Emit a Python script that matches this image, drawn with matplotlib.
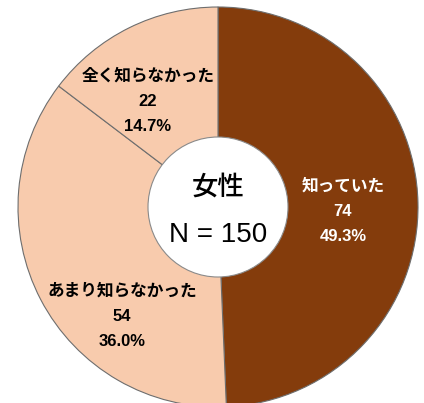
import matplotlib.pyplot as plt
from matplotlib.patches import Circle

plt.rcParams['font.family'] = ['Liberation Sans', 'Noto Sans CJK JP', 'DejaVu Sans']

labels = ['知っていた', 'あまり知らなかった', '全く知らなかった']
counts = [74, 54, 22]
percents = ['49.3%', '36.0%', '14.7%']
colors = ['#843C0C', '#F8CBAD', '#F8CBAD']
text_colors = ['white', 'black', 'black']
group = '女性'
total = 150

# figure laid out in pixel units (424 x 403)
W, H = 424, 403
cx, cy, R = 218, H - 207, 200
label_pos = [(343, 211), (122, 316), (148, 101)]

fig = plt.figure(figsize=(W / 100, H / 100), dpi=100)
ax = fig.add_axes([0, 0, 1, 1])
ax.set_xlim(0, W)
ax.set_ylim(0, H)
ax.set_aspect('equal')
ax.axis('off')

ax.pie(counts, colors=colors, startangle=90, counterclock=False,
       center=(cx, cy), radius=R,
       wedgeprops=dict(edgecolor='#6e6e6e', linewidth=0.8))
ax.set_xlim(0, W)
ax.set_ylim(0, H)

ax.add_patch(Circle((cx, cy), 70, facecolor='white', edgecolor='#8a8a8a',
                    linewidth=0.8, zorder=5))

for lab, n, p, (x, y), tc in zip(labels, counts, percents, label_pos, text_colors):
	txt = '%s\n%d\n%s' % (lab, n, p)
	ax.text(x, H - y, txt, ha='center', va='center', color=tc,
	        fontsize=12, fontweight='bold', linespacing=1.85, zorder=6)

ax.text(cx, H - 187, group, ha='center', va='center', fontsize=19,
        fontweight='medium', zorder=6)
ax.text(cx, H - 235, 'N = %d' % total, ha='center', va='center', fontsize=20,
        zorder=6)

plt.savefig('out.png', dpi=100)
